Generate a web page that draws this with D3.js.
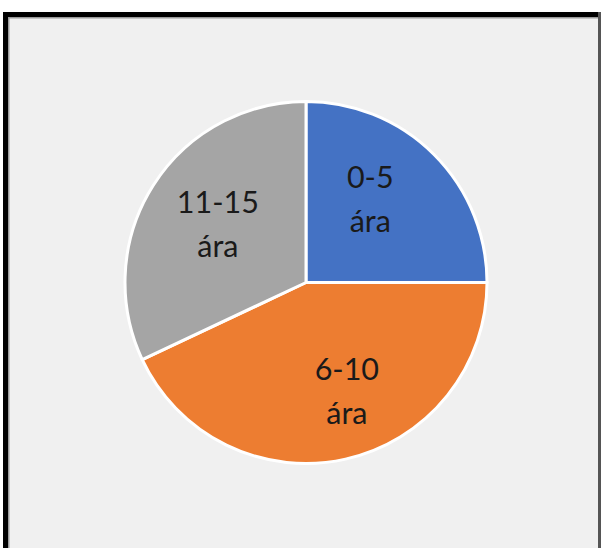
<!DOCTYPE html>
<html>
<head>
<meta charset="utf-8">
<script src="https://cdn.jsdelivr.net/npm/d3@7"></script>
<style>
  html, body { margin: 0; padding: 0; background: #ffffff; }
  svg { display: block; }
</style>
</head>
<body>
<svg id="chart" width="601" height="548"></svg>
<script>
// Data
const categories = ["0-5 ára", "6-10 ára", "11-15 ára"];
const values = [25, 43, 32];
const colors = ["#4472C4", "#ED7D31", "#A5A5A5"];

const svg = d3.select("#chart");
const W = 601, H = 548;

// Background panel and frame
svg.append("rect").attr("x", 3).attr("y", 12).attr("width", W - 3).attr("height", H - 12).attr("fill", "#f0f0f0");
svg.append("rect").attr("x", 3).attr("y", 12).attr("width", W - 3).attr("height", 5).attr("fill", "#000");
svg.append("rect").attr("x", 3).attr("y", 12).attr("width", 5).attr("height", H - 12).attr("fill", "#000");
svg.append("rect").attr("x", 8).attr("y", 17).attr("width", 1.5).attr("height", H - 17).attr("fill", "#9a9a9a");
svg.append("rect").attr("x", 8).attr("y", 17).attr("width", W - 8).attr("height", 1.5).attr("fill", "#9a9a9a");
svg.append("rect").attr("x", 598).attr("y", 12).attr("width", 3).attr("height", H - 12).attr("fill", "#555");

const cx = 306, cy = 282.5, R = 181;

const pie = d3.pie().sort(null).value(d => d)(values);
const arc = d3.arc().innerRadius(0).outerRadius(R);

const g = svg.append("g").attr("transform", `translate(${cx},${cy})`);

g.selectAll("path.slice")
  .data(pie)
  .enter().append("path")
  .attr("class", "slice")
  .attr("d", arc)
  .attr("fill", (d, i) => colors[i])
  .attr("stroke", "#ffffff")
  .attr("stroke-width", 3)
  .attr("stroke-linejoin", "round");

// Labels
const labelRadius = [105, 116, 106];
const labelAngleShift = [-0.127, -0.14, 0.024];
g.selectAll("text.lbl")
  .data(pie)
  .enter().append("text")
  .attr("class", "lbl")
  .attr("transform", (d, i) => {
    const a = (d.startAngle + d.endAngle) / 2 + labelAngleShift[i];
    const r = labelRadius[i];
    return `translate(${Math.sin(a) * r},${-Math.cos(a) * r})`;
  })
  .attr("text-anchor", "middle")
  .attr("font-family", "Lato, 'Open Sans', sans-serif")
  .attr("font-size", 30.5)
  .attr("fill", "#1a1a1a")
  .each(function(d, i) {
    const parts = categories[i].split(" ");
    const t = d3.select(this);
    t.append("tspan").attr("x", 0).attr("y", -11).text(parts[0]);
    t.append("tspan").attr("x", 0).attr("y", 33).text(parts[1]);
  });
</script>
</body>
</html>
